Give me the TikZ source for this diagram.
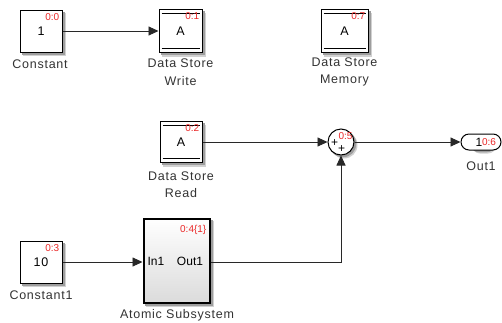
\documentclass[tikz,border=0pt]{standalone}
\usepackage{fontspec}
\setmainfont{Liberation Sans}[LetterSpace=6]
\newfontfamily\idfont{Liberation Sans}
\usetikzlibrary{arrows.meta,shapes.misc,backgrounds}
\definecolor{idred}{RGB}{235,40,40}
\definecolor{wire}{RGB}{40,40,40}
\begin{document}
\begin{tikzpicture}[x=1pt,y=-1pt,
  blk/.style={draw=black,line width=1pt,fill=white,inner sep=0pt,
    font=\fontsize{12.5}{14}\selectfont},
  lbl/.style={font=\fontsize{12.5}{17.5}\selectfont,align=center,inner sep=0pt,text=black!80},
  rid/.style={font=\idfont\fontsize{10}{11}\selectfont,text=idred,inner sep=0pt},
  intxt/.style={font=\idfont\fontsize{12}{14}\selectfont,inner sep=0pt},
  wirestyle/.style={draw=wire,line width=0.9pt,-{Triangle[length=10pt,width=9pt]}},
  shd/.style={fill=black!18},
  shdin/.style={fill=black!38}
]
\useasboundingbox (0,0) rectangle (502,322);
% soft shadows (drawn first, under the blocks)
\coordinate (s0) at (41,31);
% blocks
\node[blk,minimum width=42pt,minimum height=42pt] (c0) at (41,31) {1};
\node[blk,minimum width=43pt,minimum height=43pt] (dsw) at (180.5,31) {A};
\node[blk,minimum width=47pt,minimum height=43pt] (dsm) at (344.5,31) {A};
\node[blk,minimum width=42pt,minimum height=41pt] (dsr) at (181,142) {A};
\node[blk,circle,minimum size=26pt] (sum) at (341,142) {};
\node[blk,rounded rectangle,minimum width=40pt,minimum height=16pt] (out) at (481,142) {};
\node[blk,minimum width=42pt,minimum height=42pt] (c1) at (41,262) {10};
\node[blk,line width=2pt,minimum width=66pt,minimum height=84pt,
  top color=white,bottom color=gray!28] (as) at (176.5,260.5) {};
\begin{scope}[on background layer]
\foreach \n in {c0,dsw,dsm,dsr,c1,as}{
  \path[shd] ([shift={(3.5,3.5)}]\n.north west) rectangle ([shift={(3.5,3.5)}]\n.south east);
  \path[shdin] ([shift={(2,2)}]\n.north west) rectangle ([shift={(2,2)}]\n.south east);
}
\path[shd] ([shift={(3,3)}]sum.center) circle (13.5pt);
\path[shdin] ([shift={(1.8,1.8)}]sum.center) circle (13.5pt);
\path[shd,rounded corners=8pt] ([shift={(3,3)}]out.north west) rectangle ([shift={(3,3)}]out.south east);
\path[shdin,rounded corners=8pt] ([shift={(1.8,1.8)}]out.north west) rectangle ([shift={(1.8,1.8)}]out.south east);
\end{scope}
% inner lines of data store blocks
\foreach \n in {dsw,dsm,dsr}{
  \draw[line width=0.9pt] ([xshift=3pt,yshift=-4pt]\n.north west) -- ([xshift=-3pt,yshift=-4pt]\n.north east);
  \draw[line width=0.9pt] ([xshift=3pt,yshift=5pt]\n.south west) -- ([xshift=-3pt,yshift=5pt]\n.south east);
}
% inner texts
\node[intxt] (plus1) at (334.5,143) {+};
\node[intxt] (plus2) at (341.5,149.5) {+};
\node[intxt] (outnum) at (479,142) {1};
\node[intxt] (in1) at (156,261) {In1};
\node[intxt] (out1p) at (190,261) {Out1};
% red ids
\node[rid,anchor=north east] (r0) at ([xshift=-3pt,yshift=-3.5pt]c0.north east) {0:0};
\node[rid,anchor=north east] (r1) at ([xshift=-3pt,yshift=-3.5pt]dsw.north east) {0:1};
\node[rid,anchor=north east] (r7) at ([xshift=-3pt,yshift=-3.5pt]dsm.north east) {0:7};
\node[rid,anchor=north east] (r2) at ([xshift=-3pt,yshift=-3.5pt]dsr.north east) {0:2};
\node[rid,anchor=north east] (r3) at ([xshift=-3pt,yshift=-3.5pt]c1.north east) {0:3};
\node[rid,anchor=north east] (r4) at ([xshift=-4pt,yshift=-8pt]as.north east) {0:4\{1\}};
\node[rid] (r5) at (345.5,136) {0:5};
\node[rid] (r6) at (489,142) {0:6};
% labels
\node[lbl] (lc0) at (40,64) {Constant};
\node[lbl] (ldsw) at (180.5,72) {Data Store\\Write};
\node[lbl] (ldsm) at (344.5,72) {Data Store\\Memory};
\node[lbl] (ldsr) at (181,184.5) {Data Store\\Read};
\node[lbl] (lout) at (481,166) {Out1};
\node[lbl] (lc1) at (41,295) {Constant1};
\node[lbl] (las) at (177,315) {Atomic Subsystem};
% wires
\draw[wirestyle] (c0.east) -- (dsw.west);
\draw[wirestyle] (dsr.east) -- (sum.west);
\draw[wirestyle] (sum.east) -- (out.west);
\draw[wirestyle] (c1.east) -- (as.west |- c1.east);
\draw[wirestyle] (as.east |- c1.east) -| (sum.south);
\end{tikzpicture}
\end{document}
